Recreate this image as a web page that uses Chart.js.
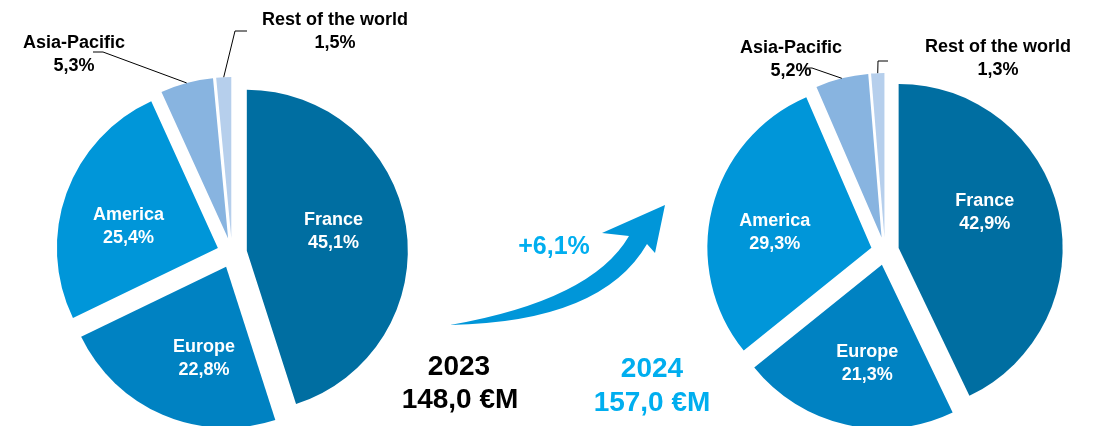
<!DOCTYPE html>
<html>
<head>
<meta charset="utf-8">
<script src="https://cdn.jsdelivr.net/npm/chart.js@4.4.1/dist/chart.umd.min.js"></script>
<style>
  html, body { margin: 0; padding: 0; background: #fff; overflow: hidden; }
  #wrap { position: relative; width: 1099px; height: 426px; font-family: "Liberation Sans", Arial, sans-serif; }
  canvas { position: absolute; left: 0; top: 0; }
  .txt { position: absolute; font-weight: bold; text-align: center; white-space: nowrap; transform: translate(-50%, -50%); line-height: 1; }
</style>
</head>
<body>
<div id="wrap">
  <canvas id="pie2023" width="1099" height="426"></canvas>
  <canvas id="pie2024" width="1099" height="426"></canvas>
  <div class="txt" style="left:459px; top:366px; font-size:28px; color:#000;">2023</div>
  <div class="txt" style="left:460px; top:399px; font-size:28px; color:#000;">148,0 €M</div>
  <div class="txt" style="left:652px; top:368px; font-size:28px; color:#00AEEF;">2024</div>
  <div class="txt" style="left:652px; top:402px; font-size:28px; color:#00AEEF;">157,0 €M</div>
  <div class="txt" style="left:554px; top:245px; font-size:25px; color:#00AEEF;">+6,1%</div>
</div>
<script>
// Revenue split by region (%)
const regions = ['France', 'Europe', 'America', 'Asia-Pacific', 'Rest of the world'];
const share2023 = [45.1, 22.8, 25.4, 5.3, 1.5];
const share2024 = [42.9, 21.3, 29.3, 5.2, 1.3];
const regionColors = ['#006EA1', '#0082C2', '#0096D9', '#88B4E0', '#B6CFEC'];

const FONT = '"Liberation Sans", Arial, sans-serif';
const LABEL_FONT = 'bold 18px ' + FONT;
const fmtPct = v => v.toFixed(1).replace('.', ',') + '%';

// Pulls every slice away from the pie centre along its mid angle
const explodePlugin = {
  id: 'explode',
  beforeDatasetDraw(chart, args, opts) {
    const ctx = chart.ctx;
    const d = opts.distance || 0;
    args.meta.data.forEach(arc => {
      const mid = (arc.startAngle + arc.endAngle) / 2;
      ctx.save();
      ctx.translate(Math.cos(mid) * d, Math.sin(mid) * d);
      arc.draw(ctx);
      ctx.restore();
    });
    return false;
  }
};

// Region name + share: inside the big slices, outside with a leader line for the small ones
const sliceLabelPlugin = {
  id: 'sliceLabels',
  afterDatasetsDraw(chart, args, opts) {
    const ctx = chart.ctx;
    const meta = chart.getDatasetMeta(0);
    const values = chart.data.datasets[0].data;
    const d = chart.options.plugins.explode.distance || 0;
    ctx.save();
    ctx.textAlign = 'center';
    ctx.textBaseline = 'middle';
    ctx.font = LABEL_FONT;
    meta.data.forEach((arc, i) => {
      const mid = (arc.startAngle + arc.endAngle) / 2;
      const ux = Math.cos(mid), uy = Math.sin(mid);
      const name = chart.data.labels[i];
      const pct = fmtPct(values[i]);
      const outside = opts.outside[i];
      if (!outside) {
        const nudge = opts.nudges[i] || [0, 0];
        const r = d + arc.outerRadius * 0.57;
        const x = arc.x + ux * r + nudge[0];
        const y = arc.y + uy * r + nudge[1];
        ctx.fillStyle = '#fff';
        ctx.fillText(name, x, y - 11.5);
        ctx.fillText(pct, x, y + 11.5);
      } else {
        const r = d + arc.outerRadius;
        const px = arc.x + ux * r, py = arc.y + uy * r;
        ctx.strokeStyle = '#000';
        ctx.lineWidth = 1;
        ctx.beginPath();
        ctx.moveTo(px, py);
        ctx.lineTo(outside.elbow[0], outside.elbow[1]);
        ctx.lineTo(outside.end[0], outside.end[1]);
        ctx.stroke();
        ctx.fillStyle = '#000';
        ctx.fillText(name, outside.text[0], outside.text[1] - 11.5);
        ctx.fillText(pct, outside.text[0], outside.text[1] + 11.5);
      }
    });
    ctx.restore();
  }
};

// Curved growth arrow between the two pies
const arrowPlugin = {
  id: 'growthArrow',
  afterDraw(chart, args, opts) {
    if (!opts.show) return;
    const ctx = chart.ctx;
    ctx.save();
    ctx.fillStyle = '#0096D9';
    ctx.beginPath();
    ctx.moveTo(450, 325);
    ctx.quadraticCurveTo(592, 300, 629, 236);
    ctx.lineTo(602, 233);
    ctx.lineTo(665, 205);
    ctx.lineTo(655, 253);
    ctx.lineTo(647, 244);
    ctx.quadraticCurveTo(602, 322, 450, 325);
    ctx.closePath();
    ctx.fill();
    ctx.restore();
  }
};

function makePie(id, values, cfg) {
  return new Chart(document.getElementById(id), {
    type: 'pie',
    data: {
      labels: regions,
      datasets: [{
        data: values,
        backgroundColor: regionColors,
        borderWidth: 0,
        radius: cfg.radius,
        clip: false
      }]
    },
    options: {
      responsive: false,
      animation: false,
      events: [],
      layout: { padding: cfg.padding },
      plugins: {
        legend: { display: false },
        tooltip: { enabled: false },
        explode: { distance: cfg.explode },
        sliceLabels: { nudges: cfg.nudges, outside: cfg.outside },
        growthArrow: { show: !!cfg.arrow }
      }
    },
    plugins: [explodePlugin, sliceLabelPlugin, arrowPlugin]
  });
}

makePie('pie2023', share2023, {
  radius: 161,
  explode: 15,
  padding: { left: 0, right: 635, top: 80, bottom: 0 },
  nudges: [[-4, -5], [14, 7], [-3, 10]],
  outside: [null, null, null,
    { elbow: [103, 52], end: [93, 52], text: [74, 55] },
    { elbow: [235, 31], end: [247, 31], text: [335, 32] }],
  arrow: true
});

makePie('pie2024', share2024, {
  radius: 164,
  explode: 14,
  padding: { left: 671, right: 0, top: 76, bottom: 0 },
  nudges: [[-5, -15], [6, 8], [-6, 7]],
  outside: [null, null, null,
    { elbow: [812, 68], end: [805, 68], text: [791, 60] },
    { elbow: [878, 61], end: [888, 61], text: [998, 59] }],
  arrow: false
});
</script>
</body>
</html>
